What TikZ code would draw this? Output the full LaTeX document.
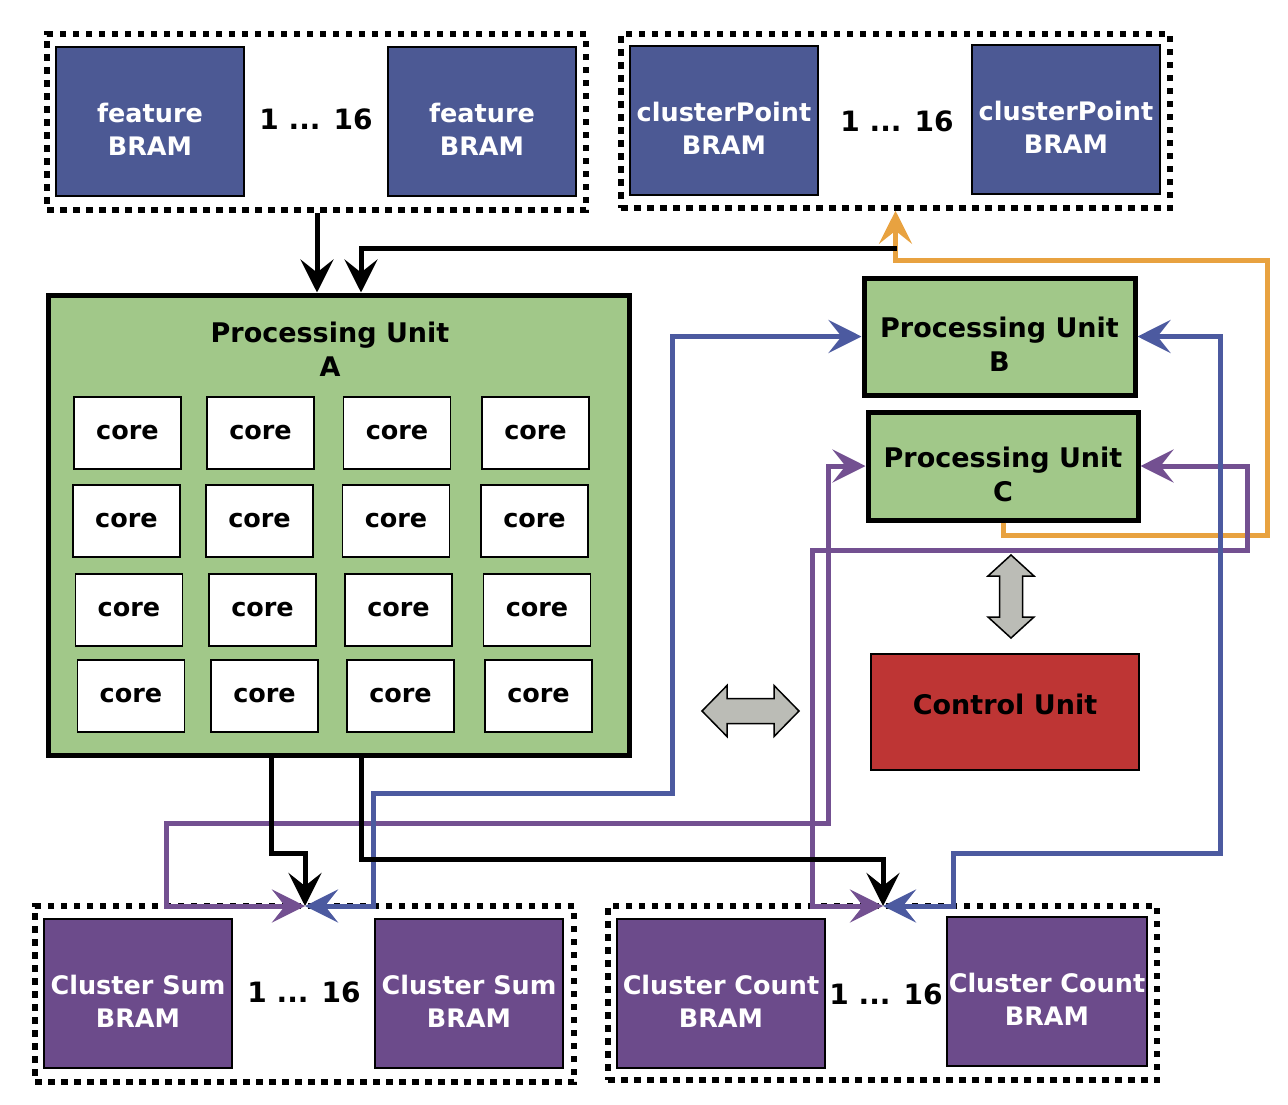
\documentclass[tikz,border=0pt]{standalone}
\usepackage{fontspec}
\setmainfont{DejaVu Sans}
\usetikzlibrary{arrows.meta}
\definecolor{bramblue}{RGB}{76,89,148}
\definecolor{brampurple}{RGB}{108,75,139}
\definecolor{pugreen}{RGB}{161,200,137}
\definecolor{cured}{RGB}{190,53,52}
\definecolor{arrgray}{RGB}{187,188,182}
\definecolor{lineorange}{RGB}{232,162,64}
\definecolor{lineblue}{RGB}{76,90,160}
\definecolor{linepurple}{RGB}{115,80,145}
\tikzset{
  bigtip/.tip={Stealth[length=33pt,width=33pt,inset=13pt]},
  container/.style={draw=black, line width=5.5pt, dash pattern=on 6.5pt off 6.5pt, inner sep=0pt},
  btext/.style={text=white, inner sep=0pt, align=center, yshift=-8pt,
    font=\fontsize{25.5}{33}\selectfont\bfseries},
  bram/.style={draw=black, line width=1.5pt, inner sep=0pt},
  bramb/.style={bram, fill=bramblue, minimum width=188pt, minimum height=149pt},
  bramp/.style={bram, fill=brampurple, minimum height=149pt},
  dotslabel/.style={font=\fontsize{28}{33}\selectfont\bfseries, inner sep=0pt},
  pubox/.style={draw=black, line width=5pt, fill=pugreen, inner sep=0pt},
  putext/.style={inner sep=0pt, align=center, yshift=-8pt, font=\fontsize{27}{34}\selectfont\bfseries},
  corebox/.style={draw=black, line width=1.5pt, fill=white, minimum width=107pt, minimum height=72pt,
    inner sep=0pt, font=\fontsize{25.5}{30}\selectfont\bfseries},
  blk/.style={draw=black, line width=5pt, -bigtip},
  pur/.style={draw=linepurple, line width=5pt, bigtip-bigtip},
  blu/.style={draw=lineblue, line width=5pt, bigtip-bigtip},
  org/.style={draw=lineorange, line width=5pt, -bigtip},
  grayarrow/.style={draw=black, line width=1.5pt, fill=arrgray, line join=miter}
}
\begin{document}
\begin{tikzpicture}[x=1pt, y=-1pt]
\useasboundingbox (0,0) rectangle (1288,1104);

% top containers
\node[container, minimum width=539pt, minimum height=176pt] (fc) at (316.5,122) {};
\node[bramb, label={[btext]center:{feature\\BRAM}}] (fb1) at (150,121.5) {};
\node[bramb, label={[btext]center:{feature\\BRAM}}] (fb2) at (482,121.5) {};
\node[dotslabel] (fdots) at (316,119) {1 ... 16};

\node[container, minimum width=549pt, minimum height=174pt] (cpc) at (895.5,121) {};
\node[bramb, label={[btext]center:{clusterPoint\\BRAM}}] (cp1) at (724,120.5) {};
\node[bramb, label={[btext]center:{clusterPoint\\BRAM}}] (cp2) at (1066,119.5) {};
\node[dotslabel] (cpdots) at (897,121) {1 ... 16};

% processing unit A
\node[pubox, minimum width=581pt, minimum height=460pt] (pua) at (338.5,525) {};
\node[font=\fontsize{27}{34}\selectfont\bfseries, align=center, inner sep=0pt] (puatitle) at (330,349) {Processing Unit\\A};

\node[corebox] (c11) at (127.5,433) {core};
\node[corebox] (c12) at (260.5,433) {core};
\node[corebox] (c13) at (397,433) {core};
\node[corebox] (c14) at (535.5,433) {core};
\node[corebox] (c21) at (126.5,521) {core};
\node[corebox] (c22) at (259.5,521) {core};
\node[corebox] (c23) at (396,521) {core};
\node[corebox] (c24) at (534.5,521) {core};
\node[corebox] (c31) at (129,610) {core};
\node[corebox] (c32) at (262.5,610) {core};
\node[corebox] (c33) at (398.5,610) {core};
\node[corebox] (c34) at (537,610) {core};
\node[corebox] (c41) at (131,696) {core};
\node[corebox] (c42) at (264.5,696) {core};
\node[corebox] (c43) at (400.5,696) {core};
\node[corebox] (c44) at (538.5,696) {core};

% processing units B and C, control unit
\node[pubox, minimum width=271pt, minimum height=117pt, label={[putext]center:{Processing Unit\\B}}] (pub) at (999.5,336.5) {};
\node[pubox, minimum width=270pt, minimum height=108pt, label={[putext]center:{Processing Unit\\C}}] (puc) at (1003,466) {};
\node[draw=black, line width=1.5pt, fill=cured, minimum width=268pt, minimum height=116pt, inner sep=0pt,
  label={[putext, yshift=16pt]center:{Control Unit}}] (cu) at (1005,712) {};

% bottom containers
\node[container, minimum width=539pt, minimum height=176pt] (csc) at (304.5,994) {};
\node[bramp, minimum width=188pt, label={[btext]center:{Cluster Sum\\BRAM}}] (cs1) at (138,993.5) {};
\node[bramp, minimum width=188pt, label={[btext]center:{Cluster Sum\\BRAM}}] (cs2) at (469,993.5) {};
\node[dotslabel] (csdots) at (304,992) {1 ... 16};

\node[container, minimum width=549pt, minimum height=174pt] (ccc) at (882.5,993) {};
\node[bramp, minimum width=208pt, label={[btext]center:{Cluster Count\\BRAM}}] (cc1) at (721,993.5) {};
\node[bramp, minimum width=200pt, label={[btext]center:{Cluster Count\\BRAM}}] (cc2) at (1047,991.5) {};
\node[dotslabel] (ccdots) at (886,994) {1 ... 16};

% gray double arrows
\draw[grayarrow] (702,711) -- (727,685.5) -- (727,698.5) -- (774,698.5) -- (774,685.5) -- (799,711)
  -- (774,736.5) -- (774,723.5) -- (727,723.5) -- (727,736.5) -- cycle;
\draw[grayarrow] (1011,555) -- (1034,576) -- (1022.5,576) -- (1022.5,617) -- (1034,617) -- (1011,638)
  -- (988,617) -- (999.5,617) -- (999.5,576) -- (988,576) -- cycle;

% named points
\coordinate (xa1) at (317,0);
\coordinate (xa2) at (361,0);
\coordinate (xb1) at (271,0);
\coordinate (bstart) at (897,248);
\coordinate (js) at (305,906);
\coordinate (jc) at (883,906);

% colored connectors
\draw[org] (puc.south) |- (1267,535) |- (895.5,260) -- (cpc.south);
\draw[pur] (js) -- (166,906) |- (828,823) |- (puc.west);
\draw[pur] (jc) -- (812,906) |- (1247,550) |- (puc.east);
\draw[blu] (js) -- (373,906) |- (672,793) |- (pub.west);
\draw[blu] (jc) -- (953,906) |- (1220,853) |- (pub.east);

% black connectors
\draw[blk] (fc.south -| xa1) -- (pua.north -| xa1);
\draw[blk] (bstart) -- (bstart -| xa2) -- (pua.north -| xa2);
\draw[blk] (pua.south -| xb1) -- ++(0,96) -| (js);
\draw[blk] (pua.south -| xa2) -- ++(0,102) -| (jc);
\end{tikzpicture}
\end{document}
